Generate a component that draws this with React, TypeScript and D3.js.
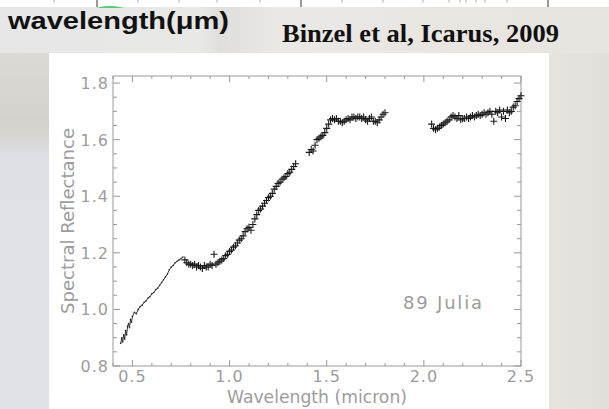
import React from 'react';
import * as d3 from 'd3';

// Visible spectrum (thin line), wavelength in micron
const visWave = [0.44, 0.445, 0.45, 0.455, 0.46, 0.465, 0.47, 0.475, 0.48, 0.485, 0.49, 0.495, 0.50, 0.51, 0.52, 0.53, 0.54, 0.55, 0.56, 0.57, 0.58, 0.59, 0.60, 0.61, 0.62, 0.63, 0.64, 0.65, 0.66, 0.67, 0.68, 0.69, 0.70, 0.71, 0.72, 0.73, 0.74, 0.75, 0.76];
const visRefl = [0.88, 0.9, 0.885, 0.91, 0.895, 0.925, 0.91, 0.94, 0.95, 0.935, 0.965, 0.955, 0.975, 0.99, 0.985, 1.0, 1.01, 1.015, 1.025, 1.03, 1.04, 1.045, 1.055, 1.06, 1.07, 1.075, 1.085, 1.095, 1.105, 1.115, 1.125, 1.14, 1.15, 1.155, 1.165, 1.17, 1.175, 1.18, 1.185];

// Near-infrared spectrum ('+' markers)
const nirWave = [
  0.77, 0.78, 0.79, 0.80, 0.81, 0.82, 0.83, 0.84, 0.85, 0.86, 0.87, 0.88, 0.89, 0.90, 0.91, 0.92, 0.93, 0.94, 0.95, 0.96,
  0.97, 0.98, 0.99, 1.00, 1.01, 1.02, 1.03, 1.04, 1.05, 1.06, 1.07, 1.08, 1.09, 1.10, 1.11, 1.12, 1.13, 1.14, 1.15, 1.16,
  1.17, 1.18, 1.19, 1.20, 1.21, 1.22, 1.23, 1.24, 1.25, 1.26, 1.27, 1.28, 1.29, 1.30, 1.31, 1.32, 1.33, 1.34,
  1.41, 1.42, 1.43, 1.44, 1.45, 1.46, 1.47, 1.48, 1.49, 1.50, 1.51, 1.52, 1.53, 1.54, 1.55, 1.56, 1.57, 1.58, 1.59, 1.60,
  1.61, 1.62, 1.63, 1.64, 1.65, 1.66, 1.67, 1.68, 1.69, 1.70, 1.71, 1.72, 1.73, 1.74, 1.75, 1.76, 1.77, 1.78, 1.79, 1.80,
  2.04, 2.05, 2.06, 2.07, 2.08, 2.09, 2.10, 2.11, 2.12, 2.13, 2.14, 2.15, 2.16, 2.17, 2.18, 2.19, 2.20, 2.21, 2.22, 2.23,
  2.24, 2.25, 2.26, 2.27, 2.28, 2.29, 2.30, 2.31, 2.32, 2.33, 2.34, 2.35, 2.36, 2.37, 2.38, 2.39, 2.40, 2.41, 2.42, 2.43,
  2.44, 2.45, 2.46, 2.47, 2.48, 2.49, 2.50
];
const nirRefl = [
  1.175, 1.165, 1.16, 1.16, 1.155, 1.16, 1.15, 1.155, 1.15, 1.145, 1.155, 1.15, 1.15, 1.16, 1.155, 1.195, 1.16, 1.165, 1.17, 1.175,
  1.18, 1.19, 1.195, 1.205, 1.21, 1.22, 1.225, 1.235, 1.245, 1.25, 1.26, 1.275, 1.285, 1.29, 1.28, 1.30, 1.32, 1.335, 1.35, 1.355,
  1.365, 1.375, 1.385, 1.395, 1.40, 1.41, 1.425, 1.435, 1.445, 1.45, 1.46, 1.465, 1.47, 1.48, 1.485, 1.495, 1.505, 1.515,
  1.555, 1.565, 1.56, 1.58, 1.60, 1.605, 1.61, 1.615, 1.625, 1.64, 1.655, 1.67, 1.675, 1.67, 1.675, 1.665, 1.665, 1.66, 1.665, 1.67,
  1.675, 1.67, 1.68, 1.68, 1.675, 1.68, 1.68, 1.675, 1.68, 1.67, 1.665, 1.675, 1.68, 1.665, 1.665, 1.66, 1.67, 1.68, 1.69, 1.695,
  1.655, 1.64, 1.635, 1.64, 1.645, 1.65, 1.655, 1.66, 1.665, 1.67, 1.68, 1.685, 1.68, 1.675, 1.685, 1.67, 1.675, 1.675, 1.68, 1.675,
  1.68, 1.685, 1.68, 1.685, 1.69, 1.685, 1.69, 1.695, 1.69, 1.695, 1.70, 1.69, 1.665, 1.70, 1.695, 1.705, 1.68, 1.70, 1.675, 1.705,
  1.695, 1.70, 1.715, 1.72, 1.735, 1.745, 1.755
];

const xTickValues = [0.5, 1.0, 1.5, 2.0, 2.5];
const yTickValues = [0.8, 1.0, 1.2, 1.4, 1.6, 1.8];
const xDomain = [0.4, 2.5];
const yDomain = [0.8, 1.825];

const headline = 'wavelength(μm)';
const citation = 'Binzel et al, Icarus, 2009';
const xTitle = 'Wavelength (micron)';
const yTitle = 'Spectral Reflectance';
const objectName = '89 Julia';

// decorative tick fragments of the slide strip at the top
const stripTicks = [54, 97, 138, 179, 217, 260, 301, 342, 383, 423, 449, 460, 466, 476, 485, 507, 548];
const stripTall = [97, 301, 548];

export default function App() {
  const W = 609, H = 409;
  const m = { left: 113, right: 521, top: 76, bottom: 366 };
  const x = d3.scaleLinear().domain(xDomain).range([m.left, m.right]);
  const y = d3.scaleLinear().domain(yDomain).range([m.bottom, m.top]);

  const xMinor = d3.range(0.4, 2.5001, 0.1).map(v => +v.toFixed(2)).filter(v => !xTickValues.some(t => Math.abs(t - v) < 1e-6));
  const yMinor = d3.range(0.8, 1.8001, 0.05).map(v => +v.toFixed(3)).filter(v => !yTickValues.some(t => Math.abs(t - v) < 1e-6));

  const visLine = d3.line<number>().x((_, i) => x(visWave[i])).y(d => y(d)).curve(d3.curveLinear)(visRefl) || '';

  const axisColor = '#999999';
  const textColor = '#9c9c9c';
  const font = 'DejaVu Sans, sans-serif';
  const plus = 'M-3.5,0H3.5M0,-3.5V3.5';

  return (
    <svg width={W} height={H} style={{ position: 'absolute', left: 0, top: 0, display: 'block' }}>
      <defs>
        <linearGradient id="bgTop" x1="0" x2="1" y1="0" y2="0">
          <stop offset="0" stopColor="#e6e6e6" />
          <stop offset="0.33" stopColor="#e8e8e7" />
          <stop offset="0.36" stopColor="#dfdedc" />
          <stop offset="0.45" stopColor="#eae8e5" />
          <stop offset="1" stopColor="#e8e4df" />
        </linearGradient>
        <linearGradient id="bgLeft" x1="0" x2="0" y1="0" y2="1">
          <stop offset="0" stopColor="#dcd9d5" />
          <stop offset="0.2" stopColor="#d5d1cc" />
          <stop offset="0.3" stopColor="#dde0e4" />
          <stop offset="1" stopColor="#dfe2e6" />
        </linearGradient>
        <linearGradient id="bgRight" x1="0" x2="1" y1="0" y2="0">
          <stop offset="0" stopColor="#e7e4e0" />
          <stop offset="1" stopColor="#e2dfdb" />
        </linearGradient>
        <clipPath id="stripClip">
          <rect x={0} y={0} width={W} height={8} />
        </clipPath>
      </defs>
      <rect x={0} y={0} width={W} height={H} fill="url(#bgTop)" />
      <rect x={0} y={53} width={49} height={H - 53} fill="url(#bgLeft)" />
      <rect x={549} y={53} width={W - 549} height={H - 53} fill="url(#bgRight)" />
      {/* top white strip */}
      <rect x={0} y={0} width={W} height={7} fill="#ffffff" />
      {stripTicks.map((t, i) => (
        <line key={'st' + i} x1={t} x2={t} y1={0} y2={stripTall.includes(t) ? 7 : 2.5} stroke={stripTall.includes(t) ? '#333' : '#aaa'} strokeWidth={1} />
      ))}
      <ellipse cx={110} cy={9} rx={14} ry={3} fill="#3cc25a" opacity={0.85} clipPath="url(#stripClip)" />

      <text x={8} y={29} fontFamily="Liberation Sans, Arial, sans-serif" fontWeight="bold" fontSize={24} fill="#111" textLength={221} lengthAdjust="spacingAndGlyphs">{headline}</text>
      <text x={282} y={42} fontFamily="Liberation Serif, Times New Roman, serif" fontWeight="bold" fontSize={25} fill="#111" textLength={277} lengthAdjust="spacingAndGlyphs">{citation}</text>

      {/* chart panel */}
      <rect x={49} y={53} width={500} height={H - 53} fill="#ffffff" />

      {/* axes box */}
      <rect x={m.left} y={m.top} width={m.right - m.left} height={m.bottom - m.top} fill="none" stroke={axisColor} strokeWidth={1} />

      {/* x ticks bottom/top */}
      {xTickValues.map((v, i) => (
        <g key={'xt' + i}>
          <line x1={x(v)} x2={x(v)} y1={m.bottom} y2={m.bottom - 6} stroke={axisColor} />
          <line x1={x(v)} x2={x(v)} y1={m.top} y2={m.top + 6} stroke={axisColor} />
          <text x={x(v)} y={382} textAnchor="middle" fontFamily={font} fontSize={16} letterSpacing={1} fill={textColor}>{v.toFixed(1)}</text>
        </g>
      ))}
      {xMinor.map((v, i) => (
        <g key={'xm' + i}>
          <line x1={x(v)} x2={x(v)} y1={m.bottom} y2={m.bottom - 3} stroke={axisColor} />
          <line x1={x(v)} x2={x(v)} y1={m.top} y2={m.top + 3} stroke={axisColor} />
        </g>
      ))}
      {/* y ticks left/right */}
      {yTickValues.map((v, i) => (
        <g key={'yt' + i}>
          <line x1={m.left} x2={m.left + 7} y1={y(v)} y2={y(v)} stroke={axisColor} />
          <line x1={m.right} x2={m.right - 7} y1={y(v)} y2={y(v)} stroke={axisColor} />
          <text x={109} y={y(v) + 6} textAnchor="end" fontFamily={font} fontSize={16} letterSpacing={1} fill={textColor}>{v.toFixed(1)}</text>
        </g>
      ))}
      {yMinor.map((v, i) => (
        <g key={'ym' + i}>
          <line x1={m.left} x2={m.left + 4} y1={y(v)} y2={y(v)} stroke={axisColor} />
          <line x1={m.right} x2={m.right - 4} y1={y(v)} y2={y(v)} stroke={axisColor} />
        </g>
      ))}

      {/* titles */}
      <text x={(m.left + m.right) / 2} y={403} textAnchor="middle" fontFamily={font} fontSize={17} fill={textColor} textLength={180} lengthAdjust="spacingAndGlyphs">{xTitle}</text>
      <text transform={`translate(74,${(m.top + m.bottom) / 2}) rotate(-90)`} textAnchor="middle" fontFamily={font} fontSize={17} fill={textColor} textLength={186} lengthAdjust="spacingAndGlyphs">{yTitle}</text>
      <text x={403} y={309} fontFamily={font} fontSize={18} letterSpacing={1.8} fill={textColor}>{objectName}</text>

      {/* visible spectrum line */}
      <path d={visLine} fill="none" stroke="#333" strokeWidth={1} />
      {visRefl.map((r, i) => (
        <circle key={'vp' + i} cx={x(visWave[i])} cy={y(r)} r={0.8} fill="#222" />
      ))}
      {/* NIR markers */}
      {nirRefl.map((r, i) => (
        <path key={'np' + i} d={plus} transform={`translate(${x(nirWave[i])},${y(r)})`} stroke="#1a1a1a" strokeWidth={1.1} fill="none" />
      ))}
    </svg>
  );
}
